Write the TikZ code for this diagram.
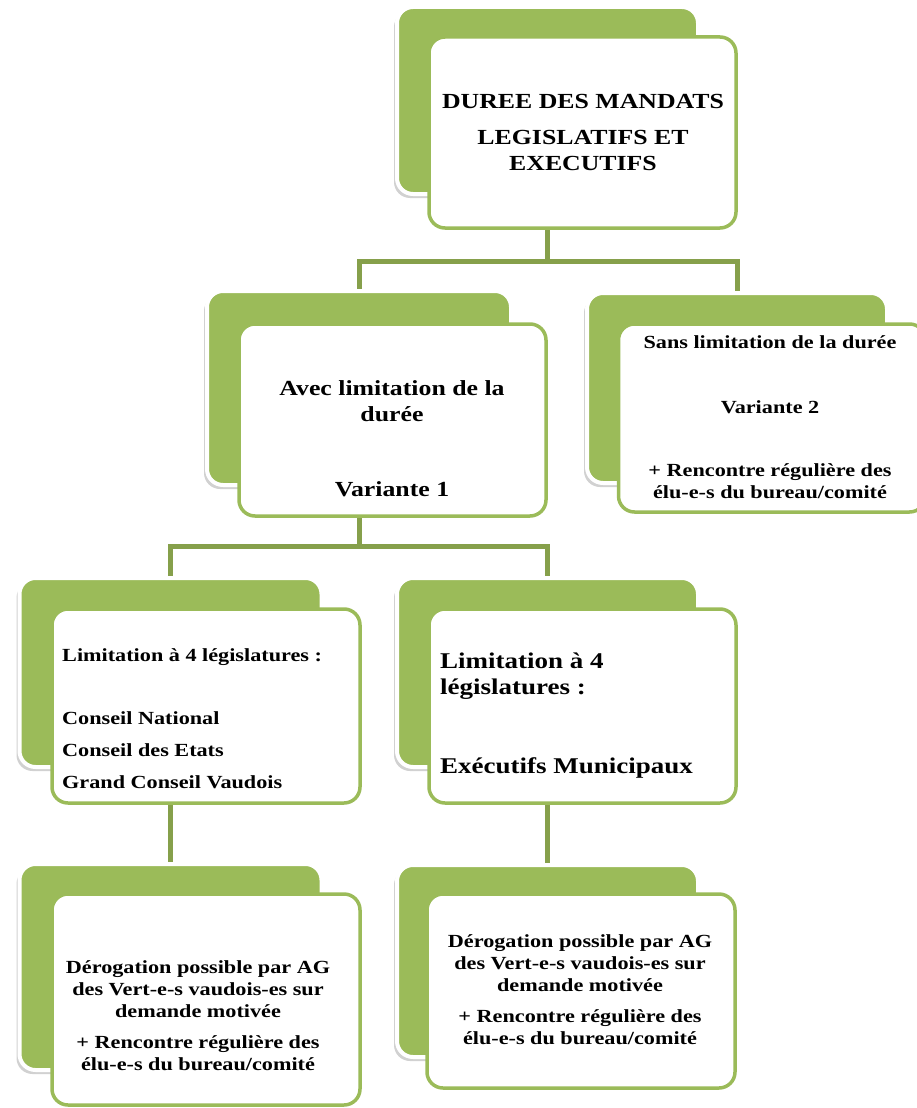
\documentclass[tikz,border=0pt]{standalone}
\usepackage{fontspec}
\setmainfont{Liberation Serif}[FakeStretch=1.2]
\usetikzlibrary{shadows}
\definecolor{boxgreen}{HTML}{9BBB59}
\definecolor{linkgreen}{HTML}{86A04B}
\pgfdeclarelayer{bg}
\pgfsetlayers{bg,main}
\begin{document}
\begin{tikzpicture}[x=1pt,y=-1pt,
    backbox/.style={draw=white, line width=4pt, fill=boxgreen, rounded corners=16pt, inner sep=0pt,
        drop shadow={shadow xshift=-3pt, shadow yshift=-4pt, opacity=0.3, fill=black!60}},
    frontbox/.style={draw=boxgreen, line width=3.5pt, fill=white, rounded corners=16pt, inner sep=0pt},
    link/.style={draw=linkgreen, line width=5pt},
    bigtxt/.style={font=\bfseries\fontsize{21.5}{26}\selectfont, inner sep=0pt},
    largetxt/.style={font=\bfseries\fontsize{22.5}{26}\selectfont, inner sep=0pt},
    smalltxt/.style={font=\bfseries\fontsize{18.5}{22}\selectfont, inner sep=0pt}]
        \useasboundingbox (0,0) rectangle (917,1108);
        \clip (0,0) rectangle (917,1108);
        % back boxes
        \node[backbox, minimum width=301pt, minimum height=187pt] (topB)  at (547.5,100.5) {};
        \node[backbox, minimum width=304pt, minimum height=194pt] (avecB) at (359,388) {};
        \node[backbox, minimum width=300pt, minimum height=190pt] (sansB) at (737,388) {};
        \node[backbox, minimum width=302pt, minimum height=189pt] (legB)  at (170.5,672.5) {};
        \node[backbox, minimum width=301pt, minimum height=189pt] (exeB)  at (547.5,672.5) {};
        \node[backbox, minimum width=302pt, minimum height=206pt] (derlB) at (170.5,967) {};
        \node[backbox, minimum width=301pt, minimum height=192pt] (derrB) at (547.5,961) {};
        % connectors
        \coordinate (j1) at (547.5,261);  \coordinate (j2) at (359,546);
        \begin{pgfonlayer}{bg}
        \draw[link] (topB.south) -- (j1) -| (avecB.north); \draw[link] (j1) -| (sansB.north);
        \draw[link] (avecB.south) -- (j2) -| (legB.north); \draw[link] (j2) -| (exeB.north);
        \draw[link] (legB.south) -- (derlB.north); \draw[link] (exeB.south) -- (derrB.north);
        \end{pgfonlayer}
        % front boxes
        \node[frontbox, minimum width=307pt, minimum height=191pt] (topF)  at (582.5,132.5) {};
        \node[frontbox, minimum width=307pt, minimum height=192pt] (avecF) at (392.5,420) {};
        \node[frontbox, minimum width=307pt, minimum height=188pt] (sansF) at (772,418) {};
        \node[frontbox, minimum width=308pt, minimum height=194pt] (legF)  at (206,706) {};
        \node[frontbox, minimum width=307pt, minimum height=194pt] (exeF)  at (582.5,706) {};
        \node[frontbox, minimum width=308pt, minimum height=211pt] (derlF) at (206,999.5) {};
        \node[frontbox, minimum width=308pt, minimum height=194pt] (derrF) at (581,991) {};
        % texts
        \node[bigtxt, align=center] (topT) at (583,132) {DUREE DES MANDATS\\[10pt]LEGISLATIFS ET\\EXECUTIFS};
        \node[bigtxt, align=center] (avecT) at (392,438.5) {Avec limitation de la\\durée\\[49pt]Variante 1};
        \node[smalltxt, align=center] (sansT) at (770,417) {Sans limitation de la durée\\[43pt]Variante 2\\[41pt]+ Rencontre régulière des\\élu-e-s du bureau/comité};
        \node[smalltxt, align=left, anchor=west] (legT) at (62,718.5) {Limitation à 4 législatures :\\[41pt]Conseil National\\[10pt]Conseil des Etats\\[10pt]Grand Conseil Vaudois};
        \node[largetxt, align=left, anchor=west] (exeT) at (440,715.5) {Limitation à 4\\législatures :\\[53pt]Exécutifs Municipaux};
        \node[smalltxt, align=center] (derlT) at (198,1015.5) {Dérogation possible par AG\\des Vert-e-s vaudois-es sur\\demande motivée\\[9pt]+ Rencontre régulière des\\élu-e-s du bureau/comité};
        \node[smalltxt, align=center] (derrT) at (580,990) {Dérogation possible par AG\\des Vert-e-s vaudois-es sur\\demande motivée\\[9pt]+ Rencontre régulière des\\élu-e-s du bureau/comité};
\end{tikzpicture}
\end{document}
